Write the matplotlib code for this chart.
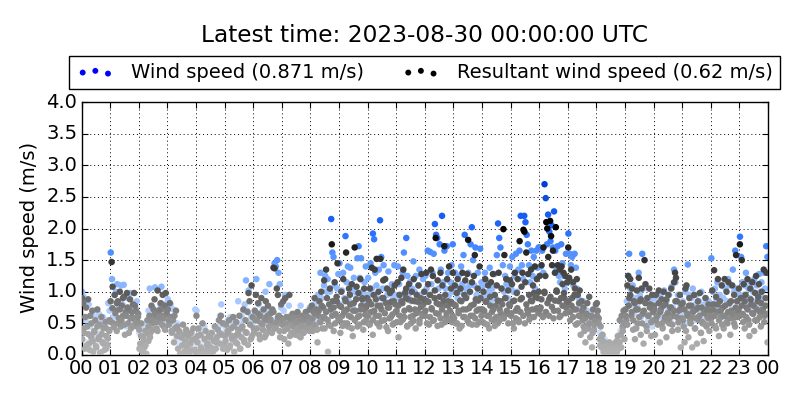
import matplotlib
matplotlib.use("Agg")
import matplotlib.pyplot as plt
from matplotlib.colors import LinearSegmentedColormap
from matplotlib.transforms import ScaledTranslation

TITLE = "Latest time: 2023-08-30 00:00:00 UTC"
WIND_LABEL = "Wind speed (0.871 m/s)"
RESULT_LABEL = "Resultant wind speed (0.62 m/s)"
Y_LABEL = "Wind speed (m/s)"
HOUR_LABELS = ["00","01","02","03","04","05","06","07","08","09","10","11","12",
               "13","14","15","16","17","18","19","20","21","22","23","00"]
Y_TICKS = [0.0,0.5,1.0,1.5,2.0,2.5,3.0,3.5,4.0]

# Samples for each hour, in time order
wind_by_hour = [
 [1.0,0.92,0.85,0.55,0.2,0.8,0.45,0.62,0.3,0.7,0.6,0.15,0.5,0.65,0.35,0.52,0.6,0.25,0.45,0.55,0.82,0.7],
 [1.62,1.2,0.6,0.95,1.0,1.12,0.75,0.55,1.1,0.8,1.11,0.7,0.45,0.9,0.75,0.98,0.6,0.7,0.5,0.75,0.85,0.65],
 [0.35,0.15,0.45,0.1,0.3,0.5,0.4,0.7,1.05,0.6,0.75,0.4,1.07,0.6,0.7,0.55,0.8,1.08,0.65,0.8,0.7,0.5],
 [0.88,0.6,0.8,0.45,0.72,0.4,0.25,0.5,0.2,0.3,0.15,0.35,0.25,0.1,0.32,0.2,0.25,0.08,0.3,0.22,0.15,0.72],
 [0.7,0.22,0.4,0.1,0.3,0.18,0.45,0.08,0.25,0.15,0.35,0.2,0.08,0.3,0.15,0.42,0.25,0.45,0.62,0.8,0.35,0.5],
 [0.45,0.28,0.55,0.4,0.6,0.3,0.48,0.55,0.25,0.45,0.85,0.35,0.5,0.6,0.7,0.8,1.18,0.7,1.02,0.55,0.62,0.5],
 [0.62,0.7,1.2,0.55,0.8,0.45,0.68,0.6,0.5,1.0,0.7,0.62,1.12,0.45,0.7,0.55,1.45,1.4,1.5,1.3,1.12,0.75],
 [0.55,0.7,0.95,0.45,0.6,0.78,0.42,0.55,0.35,0.65,0.48,0.62,0.4,0.52,0.78,0.42,0.48,0.6,0.4,0.65,0.55,0.75],
 [0.55,0.7,0.62,0.8,0.55,0.85,0.95,0.7,1.3,0.9,0.75,1.1,1.25,1.0,1.2,0.7,1.0,2.15,1.62,1.55,1.1,0.85,1.05,1.28],
 [1.45,0.8,1.02,1.3,0.9,1.88,1.15,1.4,0.85,1.38,1.05,0.75,1.22,1.0,0.9,1.53,1.72,1.22,1.53,1.0,0.85,1.15,1.4,0.95],
 [1.22,0.95,1.45,1.05,1.92,1.83,1.3,1.1,0.9,1.35,2.13,1.55,1.05,1.42,0.85,1.05,0.95,1.32,1.0,0.8,1.12,0.9,1.42,0.95],
 [0.9,1.4,1.12,0.95,0.82,1.3,1.62,1.0,1.85,1.25,0.95,1.15,0.85,1.05,1.48,1.0,1.25,0.9,1.1,1.35,0.95,0.85,1.2,1.0],
 [1.25,1.05,1.65,0.95,1.63,1.12,1.3,1.6,2.07,1.9,1.85,1.05,1.75,1.35,2.2,1.15,1.65,1.05,1.72,1.3,0.95,1.15,1.42,1.75],
 [1.0,1.3,1.08,0.9,1.25,1.0,1.4,1.12,1.58,1.9,1.05,0.95,1.3,1.1,1.75,2.02,1.5,1.1,1.7,0.95,1.3,1.05,1.68,1.15],
 [1.08,0.95,1.3,0.9,1.12,1.0,1.38,0.85,1.05,0.95,1.28,0.9,1.58,2.08,1.85,1.7,1.05,1.42,1.0,1.25,1.12,0.9,1.05,1.4],
 [1.05,1.55,1.0,1.25,1.6,1.0,1.35,1.65,2.2,1.42,1.2,2.2,2.1,1.9,1.75,1.42,1.15,1.65,1.25,1.55,1.05,1.65,1.38,1.7],
 [1.7,1.4,1.65,1.3,2.7,2.48,1.75,2.22,1.95,1.8,2.05,1.7,2.27,1.65,1.35,1.72,1.25,1.15,1.75,1.45,1.25,1.05,1.6,1.15],
 [1.92,1.6,1.42,1.55,1.1,1.6,1.38,1.05,0.9,0.8,0.7,0.75,0.85,0.6,0.55,0.7,0.5,0.6,0.4,0.55,0.7,0.45,0.6],
 [0.7,0.55,0.35,0.2,0.3,0.12,0.25,0.08,0.15,0.04,0.14,0.08,0.04,0.12,0.2,0.08,0.25,0.15,0.38,0.28,0.5,0.6],
 [0.72,0.85,1.25,1.6,1.05,0.8,1.1,0.65,0.9,0.45,0.75,1.3,0.95,0.6,1.6,1.05,0.85,0.65,0.9,0.55,0.8,0.85,0.45,0.7],
 [0.9,0.65,0.5,0.85,0.6,0.95,0.75,0.45,1.02,0.6,0.85,0.7,0.95,0.55,1.08,0.75,1.35,1.15,0.65,0.95,0.5,0.8,0.6],
 [0.85,0.65,1.0,0.5,1.43,0.95,0.7,0.9,1.05,0.55,0.8,0.95,0.6,0.85,0.7,1.0,0.55,0.8,0.9,0.65,0.5,0.85,0.75],
 [1.53,1.0,0.7,1.05,0.85,1.15,0.75,0.95,0.7,1.1,0.9,0.6,1.05,0.85,1.2,0.8,1.1,0.7,1.35,1.0,1.65,1.05,0.85,0.95],
 [1.87,1.55,1.15,0.95,1.1,1.3,0.8,1.05,0.9,1.15,0.7,1.0,1.2,0.85,1.1,0.75,1.28,1.0,1.15,0.9,1.3,1.05,1.72,1.55],
]
result_by_hour = [
 [0.9,0.82,0.35,0.1,0.75,0.45,0.88,0.18,0.62,0.28,0.7,0.05,0.38,0.55,0.12,0.72,0.25,0.48,0.03,0.6,0.2,0.42,0.08,0.52,0.3,0.16,0.4,0.55],
 [0.85,1.47,1.08,0.5,0.95,0.7,0.38,0.85,0.58,1.0,0.45,0.78,0.62,0.92,0.32,0.68,0.98,0.5,0.72,0.88,0.42,0.6,0.8,0.98,0.55,0.7,0.45,0.65],
 [0.4,0.18,0.5,0.05,0.28,0.12,0.38,0.02,0.55,0.22,0.62,0.35,0.78,0.5,0.72,0.88,0.6,0.42,1.02,0.7,0.52,0.82,0.62,0.95,0.45,0.78,0.98,0.65],
 [0.72,0.48,0.82,0.6,0.35,0.55,0.2,0.42,0.7,0.3,0.1,0.38,0.02,0.28,0.15,0.32,0.05,0.22,0.4,0.1,0.3,0.02,0.18,0.35,0.08,0.42,0.25,0.05],
 [0.62,0.2,0.42,0.05,0.32,0.1,0.5,0.02,0.25,0.38,0.08,0.18,0.3,0.02,0.12,0.35,0.06,0.22,0.45,0.1,0.28,0.4,0.55,0.18,0.62,0.32,0.5,0.15],
 [0.3,0.48,0.08,0.35,0.55,0.15,0.42,0.25,0.6,0.05,0.3,0.52,0.18,0.4,0.62,0.1,0.28,0.45,0.72,0.2,0.55,0.35,0.68,0.98,0.85,0.25,1.1,0.6],
 [0.42,0.7,0.95,0.55,0.82,0.32,0.62,0.9,0.48,0.72,0.28,0.85,0.55,0.78,0.38,0.65,0.5,0.72,1.38,1.37,0.45,1.05,0.95,0.62,0.28,0.8],
 [0.48,0.85,0.25,0.9,0.6,0.42,0.18,0.95,0.55,0.35,0.65,0.45,0.62,0.32,0.5,0.68,0.38,0.58,0.28,0.62,0.45,0.35,0.55,0.68,0.4,0.6,0.48,0.72],
 [0.5,0.78,0.38,0.68,0.9,0.45,0.72,0.2,0.62,0.85,0.52,1.0,0.42,0.75,1.18,0.58,1.35,0.9,0.05,0.48,1.05,0.72,1.75,0.85,0.38,1.15,0.65,0.92,1.45,0.55],
 [0.78,0.35,1.0,0.62,1.2,0.5,0.88,1.62,0.72,0.45,1.05,0.95,0.6,1.12,0.3,0.82,1.7,0.7,1.08,0.45,0.98,0.62,1.2,0.78,0.88,0.4,1.05,0.72,0.55,0.9],
 [0.5,0.85,1.05,0.68,1.38,0.32,0.95,1.35,0.62,1.52,0.78,1.0,0.45,1.52,0.72,0.9,1.18,0.55,1.2,0.82,1.05,0.38,0.75,0.98,0.6,1.02,0.48,0.85,1.1,0.68],
 [0.7,1.15,0.28,0.95,0.52,1.22,0.82,1.35,0.6,0.98,1.05,0.45,0.88,1.12,0.72,0.5,1.0,0.62,1.2,0.85,0.42,0.95,0.7,1.1,0.55,0.9,1.28,0.65,0.8,1.0],
 [0.62,1.3,0.85,1.12,0.48,0.95,1.35,0.72,1.25,0.55,1.02,1.85,0.82,1.18,0.65,0.92,1.3,0.48,1.1,0.78,1.72,0.95,0.6,1.2,0.85,1.4,0.7,1.05,0.52,1.3],
 [0.8,1.1,0.5,0.98,1.2,0.7,0.42,1.05,0.85,1.3,0.6,0.95,1.18,0.72,1.28,1.82,0.5,1.0,0.78,1.15,0.62,1.25,1.58,0.88,0.48,1.05,0.72,1.4,0.9,0.62],
 [0.72,1.0,0.5,1.2,0.85,0.62,1.1,0.42,0.92,1.15,0.68,1.28,0.55,0.95,0.78,1.1,0.5,1.3,0.72,0.85,1.05,0.6,1.99,1.58,0.9,1.2,0.65,1.02,0.8,1.18],
 [0.62,1.12,0.85,0.42,1.3,0.7,0.98,1.2,0.55,1.8,0.88,1.08,1.3,1.98,1.95,1.15,1.62,0.72,1.28,0.95,0.6,1.35,0.85,1.1,0.98,1.4,0.72,1.2,0.9,1.0],
 [1.25,0.75,1.42,0.62,1.7,1.0,1.25,2.1,2.0,1.55,0.88,2.12,1.88,1.42,1.65,0.7,1.3,2.02,1.0,1.42,0.85,1.35,0.62,1.4,1.12,1.3,0.9,1.25,0.75,1.15],
 [1.7,1.22,0.55,1.35,0.9,1.15,0.72,1.05,0.48,1.2,0.95,0.62,1.02,0.32,0.85,0.55,0.75,0.38,0.2,0.65,0.82,0.48,0.92,0.28,0.6,0.12,0.72,0.4,0.55,0.8],
 [0.82,0.7,0.58,0.25,0.45,0.12,0.32,0.05,0.2,0.03,0.16,0.0,0.08,0.2,0.02,0.12,0.0,0.05,0.18,0.02,0.08,0.22,0.3,0.1,0.55,0.32,0.62,0.45,0.7,0.25],
 [0.72,0.55,1.1,1.25,0.9,1.2,0.62,1.05,0.4,0.85,0.25,0.72,1.02,0.5,1.22,0.85,0.32,1.05,0.65,0.18,1.5,1.12,0.45,0.9,0.62,1.05,0.8,0.3,0.95,0.55],
 [0.78,0.32,0.95,0.62,0.48,1.02,0.2,0.72,0.88,0.42,1.0,0.55,0.8,0.28,0.65,0.95,0.5,0.75,1.05,0.38,0.62,1.15,1.3,1.22,0.85,0.4,0.7,0.95,0.12,0.58],
 [0.82,0.45,0.2,1.05,1.1,0.62,0.28,0.9,0.55,0.78,0.12,0.68,0.95,0.42,0.72,0.18,0.85,0.55,0.98,0.35,0.75,0.5,0.22,0.68,0.9,0.45,0.6,0.8,0.38,0.7],
 [0.58,1.02,0.8,1.34,0.45,0.92,0.68,1.2,0.3,0.85,0.6,1.1,0.75,0.42,1.2,0.62,1.0,0.5,1.15,0.82,0.32,0.7,1.1,0.58,0.95,0.45,1.58,0.85,0.68,1.05],
 [1.75,0.9,1.5,0.65,1.12,0.42,0.95,0.75,1.2,0.55,0.3,1.05,0.8,1.15,0.65,0.38,0.98,1.25,0.55,0.85,1.12,0.68,0.45,1.0,0.72,1.35,0.62,0.9,1.3,0.2],
]
# Further samples of the dense band of each hour
result_band_by_hour = [
 [0.25,0.42,0.6,0.15,0.33,0.08,0.5,0.22,0.36,0.14,0.45,0.28,0.04,0.33,0.18,0.44,0.1,0.26,0.38],
 [0.52,0.74,0.44,0.66,0.82,0.5,0.72,0.55,0.9,0.48,0.62,0.75,0.35,0.58,0.68,0.46,0.78,0.52,0.6],
 [0.1,0.3,0.06,0.22,0.15,0.35,0.45,0.28,0.55,0.4,0.65,0.52,0.38,0.6,0.72,0.48,0.58,0.4,0.7],
 [0.55,0.38,0.62,0.45,0.3,0.48,0.16,0.34,0.24,0.08],
 [0.3,0.12,0.02,0.16,0.28,0.06,0.2,0.34,0.1],
 [0.22,0.38,0.12,0.3,0.45,0.2,0.34,0.1,0.42,0.24,0.36,0.16,0.48,0.3],
 [0.35,0.55,0.42,0.65,0.25,0.5,0.4,0.58,0.32,0.62,0.45,0.56,0.35,0.68,0.42,0.52,0.6,0.38,0.5],
 [0.55,0.38,0.5,0.42,0.6,0.3,0.48,0.58,0.36,0.52,0.42,0.3,0.55,0.46,0.36,0.6,0.44,0.52,0.38],
 [0.42,0.58,0.48,0.66,0.4,0.7,0.52,0.78,0.6,0.42,0.68,0.55,0.8,0.46,0.62,0.75,0.5,0.85,0.6],
 [0.55,0.76,0.46,0.68,0.85,0.5,0.62,0.8,0.42,0.7,0.55,0.88,0.6,0.48,0.72,0.9,0.52,0.64,0.78],
 [0.62,0.48,0.8,0.55,0.7,0.88,0.5,0.62,0.78,0.54,0.9,0.66,0.44,0.75,0.58,0.84,0.64,0.5,0.8],
 [0.52,0.78,0.62,0.85,0.56,0.7,0.9,0.46,0.74,0.6,0.86,0.54,0.72,0.66,0.84,0.5,0.76,0.62,0.88],
 [0.7,0.5,0.84,0.6,0.74,0.54,0.9,0.66,0.46,0.8,0.58,0.72,0.86,0.52,0.66,0.78,0.56,0.84,0.62],
 [0.58,0.78,0.5,0.66,0.86,0.46,0.72,0.6,0.9,0.54,0.74,0.62,0.48,0.8,0.58,0.7,0.86,0.52,0.72],
 [0.52,0.7,0.84,0.48,0.62,0.78,0.56,0.72,0.46,0.6,0.86,0.54,0.66,0.8,0.58,0.9,0.7,0.5,0.78],
 [0.66,0.5,0.86,0.58,0.74,0.52,0.68,0.9,0.62,0.5,0.8,0.66,0.56,0.86,0.72,0.6,0.92,0.74,0.66],
 [0.72,0.88,0.6,0.98,0.68,0.82,0.62,0.92,0.76,0.58,0.86,1.02,0.7,0.6,0.9,0.78,0.98,0.66,0.84],
 [0.85,0.68,0.78,0.6,0.95,0.72,0.5,0.82,0.62,0.7,0.45,0.58,0.65,0.42,0.5,0.62,0.35,0.48,0.55],
 [0.62,0.5,0.15,0.3,0.22,0.08,0.14,0.04,0.1,0.02,0.06,0.0,0.1,0.04,0.14,0.2,0.12,0.38,0.5],
 [0.62,0.48,0.78,0.95,0.68,0.55,0.82,0.42,0.72,0.6,0.88,0.5,0.7,0.82,0.38,0.62,0.75,0.52,0.68],
 [0.72,0.55,0.62,0.82,0.68,0.5,0.78,0.6,0.88,0.66,0.58,0.75,0.48,0.7,0.85,0.6,0.52,0.72,0.8],
 [0.55,0.72,0.38,0.65,0.78,0.5,0.6,0.7,0.42,0.58,0.75,0.62,0.35,0.52,0.66,0.48,0.72,0.58,0.62],
 [0.5,0.72,0.62,0.42,0.8,0.55,0.7,0.48,0.62,0.78,0.52,0.68,0.58,0.85,0.65,0.5,0.75,0.6,0.72],
 [0.62,0.78,0.52,0.85,0.6,0.72,0.48,0.88,0.66,0.78,0.55,0.72,0.92,0.6,0.82,0.7,0.52,0.78,0.65],
]

wind_hours, wind_speed = [], []
for hour, samples in enumerate(wind_by_hour):
    for i, v in enumerate(samples):
        wind_hours.append(hour + (i + 0.5) / len(samples))
        wind_speed.append(v)
result_hours, result_speed = [], []
for group in (result_by_hour, result_band_by_hour):
    for hour, samples in enumerate(group):
        for i, v in enumerate(samples):
            result_hours.append(hour + (i + 0.5) / len(samples))
            result_speed.append(v)

blue_map = LinearSegmentedColormap.from_list(
    "wind", [(0.0, "#e2ecff"), (0.33, "#a3c6ff"), (0.55, "#5f9aff"),
             (0.75, "#1f68ff"), (1.0, "#0040d8")])
grey_map = LinearSegmentedColormap.from_list(
    "res", [(0.0, "#b4b4b4"), (0.2, "#a0a0a0"), (0.35, "#808080"), (0.5, "#5a5a5a"),
            (0.75, "#333333"), (1.0, "#000000")])

plt.rcParams["font.family"] = "DejaVu Sans"
fig = plt.figure(figsize=(8, 4), dpi=100)
ax = fig.add_axes([81.5/800, 45/400, 686.5/800, 253/400])
ax.set_axisbelow(True)
ax.grid(True, color="black", linestyle=(0, (1, 3)), linewidth=0.7)
ax.scatter(wind_hours, wind_speed, c=wind_speed, cmap=blue_map, vmin=0, vmax=2.7,
           s=22, linewidths=0, zorder=2)
ax.scatter(result_hours, result_speed, c=result_speed, cmap=grey_map, vmin=0, vmax=2.0,
           s=22, linewidths=0, zorder=3)
ax.set_xlim(0, 24)
ax.set_ylim(0, 4)
ax.set_xticks(range(25))
ax.set_xticklabels(HOUR_LABELS)
ax.set_yticks(Y_TICKS)
ax.set_yticklabels([f"{t:.1f}" for t in Y_TICKS])
ax.tick_params(labelsize=14, direction="in", top=True, right=True, length=4, width=0.8, pad=3)
up = ScaledTranslation(0, 2/100, fig.dpi_scale_trans)
for lab in ax.get_yticklabels():
    lab.set_transform(lab.get_transform() + up)
ax.set_ylabel(Y_LABEL, fontsize=14)
ax.yaxis.set_label_coords(-0.0625, 0.505)
for s in ax.spines.values():
    s.set_linewidth(1.0)

h1 = ax.scatter([], [], color="#0000ff", s=18, linewidths=0)
h2 = ax.scatter([], [], color="black", s=18, linewidths=0)
leg = fig.legend([h1, h2], [WIND_LABEL, RESULT_LABEL], ncol=2, loc="center",
                 bbox_to_anchor=(424.8/800, 1-72.5/400), fontsize=14, scatterpoints=3,
                 scatteryoffsets=[0.4, 0.525, 0.325], fancybox=False, framealpha=1,
                 edgecolor="black", borderaxespad=0, handletextpad=0.9, columnspacing=1.96,
                 borderpad=0.38, handlelength=1.9)
leg.get_frame().set_linewidth(1.0)
fig.text(424.5/800, 1-35.5/400, TITLE, fontsize=16.75, ha="center", va="center")
fig.savefig("out.png", dpi=100)
